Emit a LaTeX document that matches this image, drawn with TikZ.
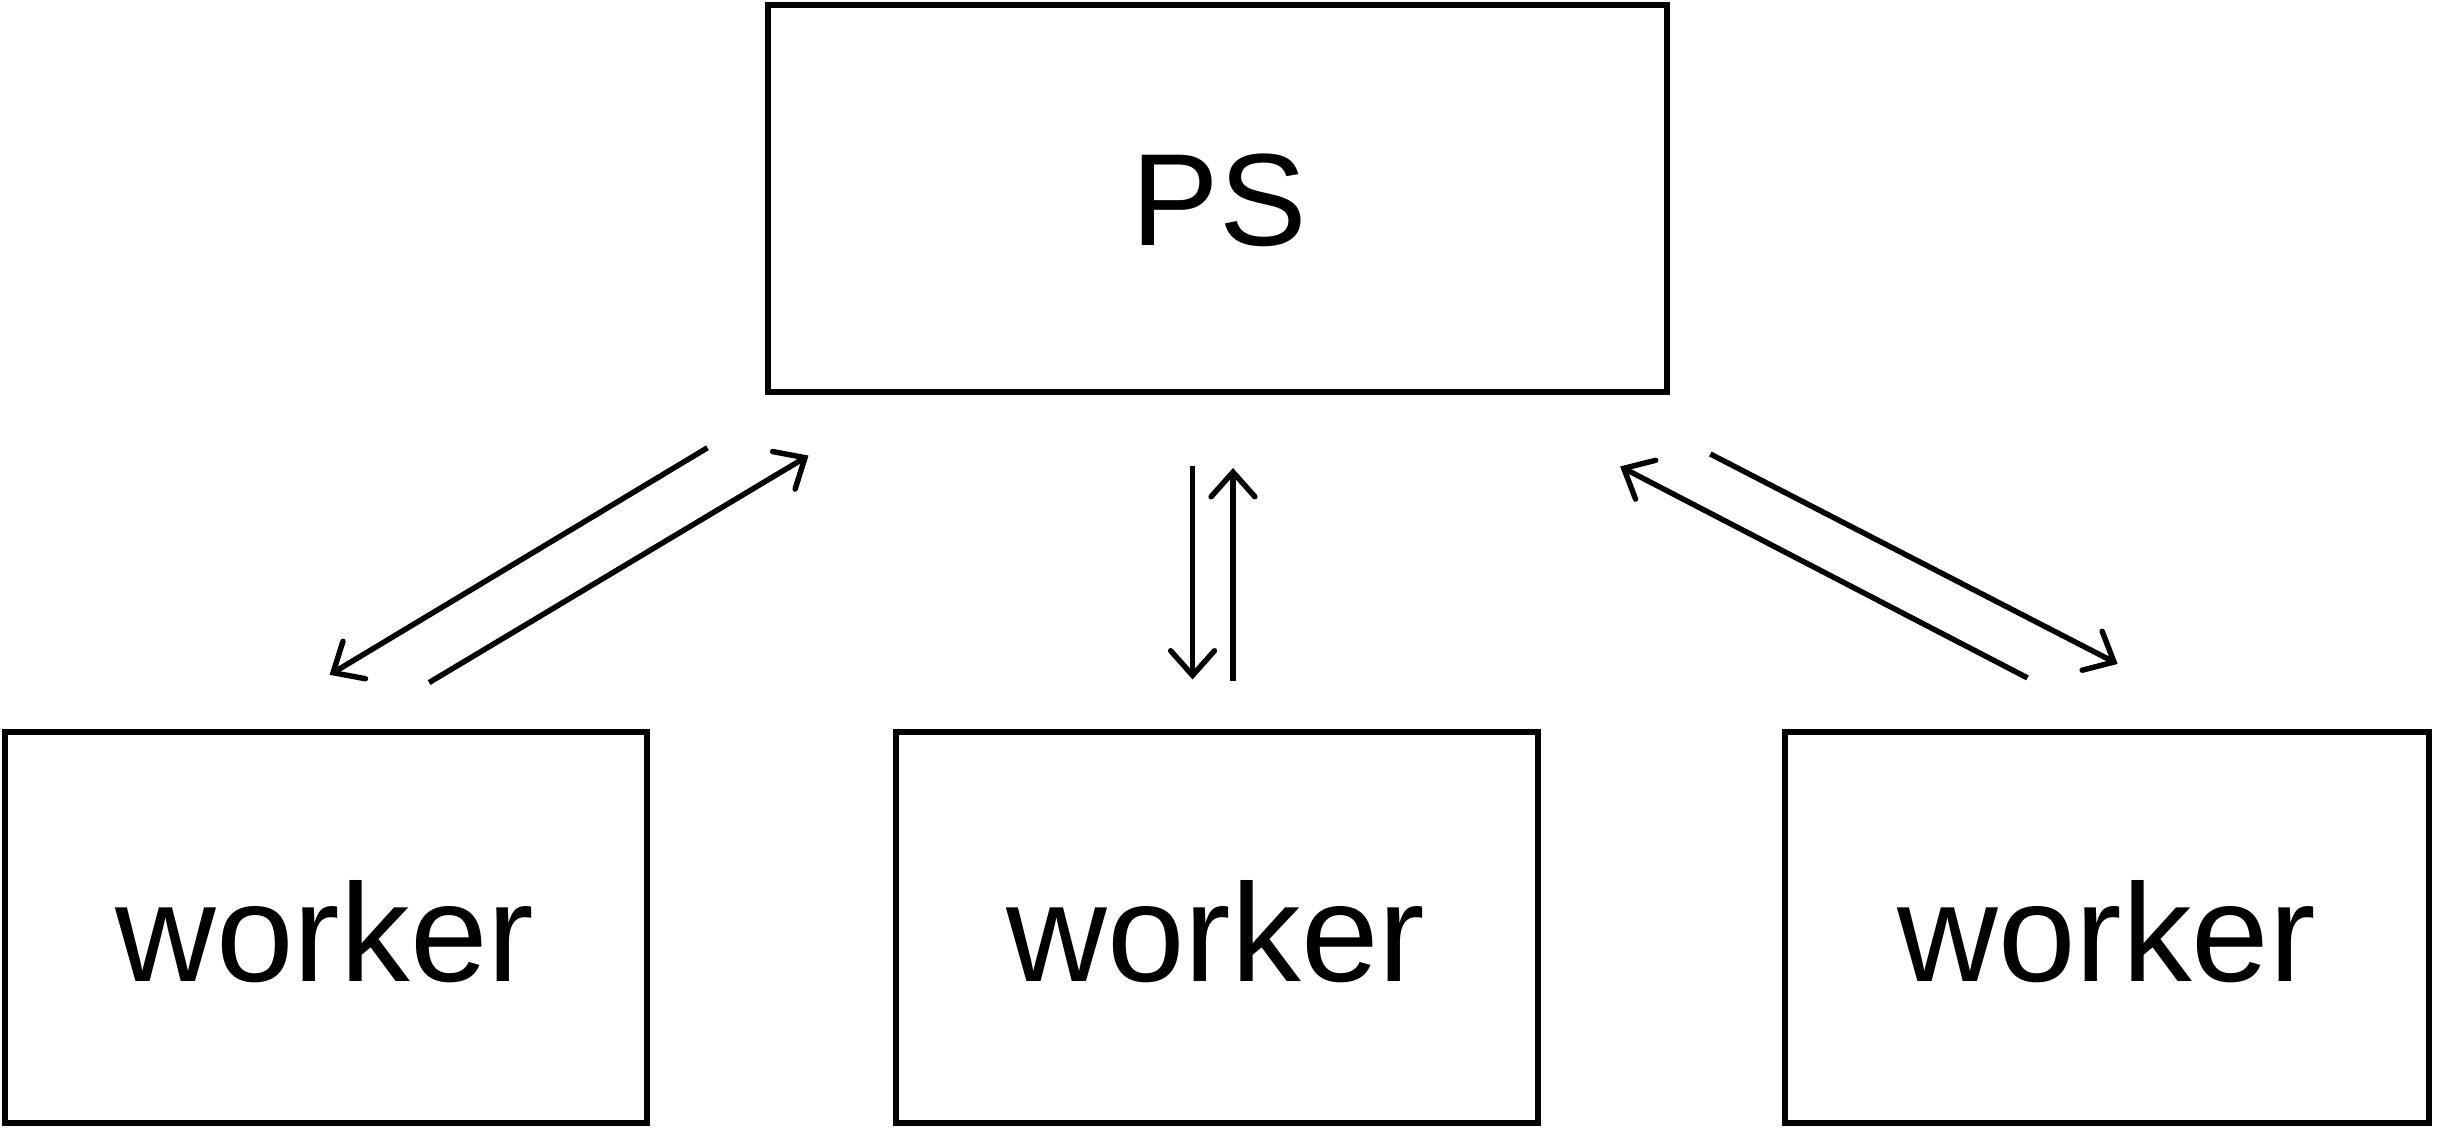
\documentclass[tikz,border=0pt]{standalone}
\usepackage{fontspec}
\setmainfont{Liberation Sans}
\usetikzlibrary{arrows.meta}
\begin{document}
\begin{tikzpicture}[x=0.01cm,y=-0.01cm,
  frame/.style={line width=1.1pt},
  lbl/.style={font=\fontsize{25.5}{30}\selectfont},
  conn/.style={line width=1pt,-{Straight Barb[length=4.5pt,width=8pt,line cap=round]}}]
\useasboundingbox (0,0) rectangle (1568,727);
\draw[frame] (494,3) rectangle (1072,252);
\node[lbl,font=\fontsize{24}{30}\selectfont] (ps) at (784,129) {PS};
\draw[frame] (3,471) rectangle (416,722);
\draw[frame] (576,471) rectangle (989,722);
\draw[frame] (1148,471) rectangle (1562,722);
\node[lbl] (w1) at (209,599) {worker};
\node[lbl] (w2) at (782,599) {worker};
\node[lbl] (w3) at (1355,599) {worker};
\coordinate (a1) at (455,288); \coordinate (b1) at (212,434);
\coordinate (a2) at (276,439); \coordinate (b2) at (520,293);
\coordinate (a3) at (767,300); \coordinate (b3) at (767,437);
\coordinate (a4) at (793,438); \coordinate (b4) at (793,301);
\coordinate (a5) at (1304,436); \coordinate (b5) at (1042,300);
\coordinate (a6) at (1100,292); \coordinate (b6) at (1362,427);
\draw[conn] (a1) -- (b1);
\draw[conn] (a2) -- (b2);
\draw[conn] (a3) -- (b3);
\draw[conn] (a4) -- (b4);
\draw[conn] (a5) -- (b5);
\draw[conn] (a6) -- (b6);
\end{tikzpicture}
\end{document}
